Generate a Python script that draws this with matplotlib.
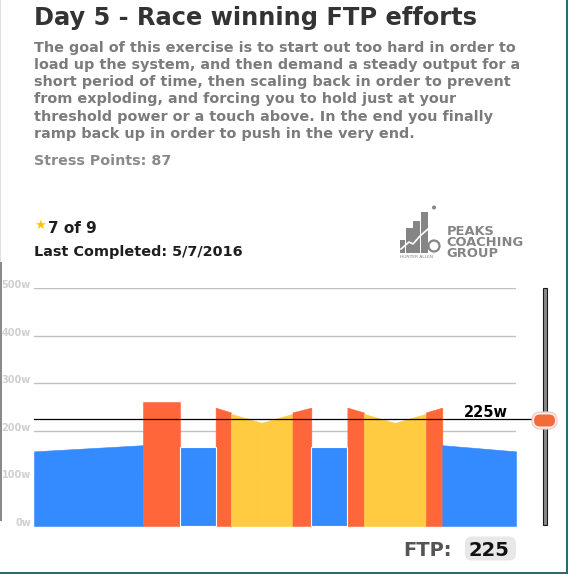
import matplotlib.pyplot as plt
from matplotlib.patches import Rectangle, FancyBboxPatch, Circle
from matplotlib.transforms import Affine2D
import numpy as np

W, H = 568, 574

# workout blocks: length in seconds, watts at start and end of block
block_secs = [545, 182, 180, 76, 154, 154, 94, 180, 82, 155, 155, 82, 368]
start_watts = [157, 260, 166, 249, 236, 217, 239, 166, 249, 236, 217, 239, 170]
end_watts = [170, 260, 166, 239, 217, 236, 249, 166, 239, 217, 236, 249, 157]
zones = ["rec", "hard", "rec", "hard", "tempo", "tempo", "hard",
         "rec", "hard", "tempo", "tempo", "hard", "rec"]

ftp = 225
y_ticks = [0, 100, 200, 300, 400, 500]
y_labels = ["0w", "100w", "200w", "300w", "400w", "500w"]

title = "Day 5 - Race winning FTP efforts"
desc_lines = [
    "The goal of this exercise is to start out too hard in order to",
    "load up the system, and then demand a steady output for a",
    "short period of time, then scaling back in order to prevent",
    "from exploding, and forcing you to hold just at your",
    "threshold power or a touch above. In the end you finally",
    "ramp back up in order to push in the very end.",
]
stress_txt = "Stress Points: 87"
progress_txt = "7 of 9"
last_txt = "Last Completed: 5/7/2016"
logo_txt = "PEAKS\nCOACHING\nGROUP"

zone_col = {"rec": "#338bff", "hard": "#ff663a", "tempo": "#ffcb40"}

fig = plt.figure(figsize=(W / 100, H / 100), dpi=100)
fig.patch.set_facecolor("white")
# pixel coords, origin top-left
px = Affine2D().scale(1 / W, -1 / H).translate(0, 1) + fig.transFigure

# ---- header texts
fig.text(34, 25.4, title, transform=px, fontsize=17.4, fontweight="bold",
         color="#333333", va="baseline")
for i, line in enumerate(desc_lines):
    fig.text(34, 51.8 + i * 17.2, line, transform=px, fontsize=10.4,
             fontweight="bold", color="#7b7b7b", va="baseline")
fig.text(34, 165, stress_txt, transform=px, fontsize=10.3, fontweight="bold",
         color="#8a8a8a", va="baseline")
fig.text(40, 225, "\u2605", transform=px, fontsize=9.5, color="#ffc400",
         ha="center", va="center")
fig.text(48, 233, progress_txt, transform=px, fontsize=11, fontweight="bold",
         color="#1e1e1e", va="baseline")
fig.text(34, 255.6, last_txt, transform=px, fontsize=10.4, fontweight="bold",
         color="#1e1e1e", va="baseline")

# ---- logo
logo_gray = "#858585"
for x0, top, w in [(400, 240, 5), (405.5, 228, 7), (413, 221, 7), (420.5, 212, 7)]:
    fig.add_artist(Rectangle((x0, top), w, 253 - top, transform=px,
                             facecolor=logo_gray, edgecolor="none"))
fig.add_artist(plt.Line2D([401, 409, 413, 420, 428], [249, 242, 244, 236, 229],
                          transform=px, color="white", lw=1.2))
fig.add_artist(Circle((434, 246), 5.5, transform=px, facecolor="white",
                      edgecolor=logo_gray, lw=1.6))
fig.add_artist(Circle((434, 207.5), 2, transform=px, facecolor=logo_gray,
                      edgecolor="none"))
fig.text(400, 258.5, "HUNTER ALLEN", transform=px, fontsize=3.2,
         color=logo_gray, va="baseline")
fig.text(446.5, 259.8, logo_txt, transform=px, fontsize=9.4,
         fontweight="semibold", linespacing=0.78, color=logo_gray,
         va="bottom", ha="left", multialignment="left")

# ---- workout chart
ax = fig.add_axes([34 / W, 48 / H, 482 / W, (526 - 288.3) / H])
ax.axis("off")
total = sum(block_secs)
ax.set_xlim(0, total)
ax.set_ylim(0, 500)

for v, lab in zip(y_ticks, y_labels):
    ax.axhline(v, color="#c0c0c0", lw=1.0, zorder=0)
    ax.annotate(lab, xy=(0, v), xycoords=ax.get_yaxis_transform(),
                xytext=(-2.2, 0), textcoords="offset points", ha="right",
                va="baseline", fontsize=7, fontweight="bold",
                color="#cfcfcf", annotation_clip=False)

edges = np.concatenate([[0], np.cumsum(block_secs)])
for i in range(len(block_secs)):
    c = zone_col[zones[i]]
    steady = zones[i] == "rec" and start_watts[i] == end_watts[i]
    ax.fill_between([edges[i], edges[i + 1]], [start_watts[i], end_watts[i]],
                    facecolor=c, zorder=2 + int(steady),
                    edgecolor="white" if steady else c,
                    linewidth=0.8 if steady else 0.4)

ax.axhline(ftp, xmin=0, xmax=(531.5 - 34) / 482, color="black", lw=0.9,
           zorder=5, clip_on=False)
ax.annotate(f"{ftp}w", xy=(1, ftp), xycoords=ax.get_yaxis_transform(),
            xytext=(-5.6, 1.6), textcoords="offset points", ha="right",
            va="baseline", fontsize=10.5, fontweight="bold", color="black",
            annotation_clip=False)

# ---- slider on the right
fig.add_artist(Rectangle((542.8, 288.3), 4, 236.7, transform=px,
                         facecolor="#8a8a8a", edgecolor="#1a1a1a", lw=0.8))
fig.add_artist(FancyBboxPatch((532, 412), 25, 17, transform=px,
                              boxstyle="round,pad=0,rounding_size=8.5",
                              facecolor="#fbeeea", edgecolor="#e8c8c0", lw=0.8))
fig.add_artist(FancyBboxPatch((534, 414.5), 21, 12, transform=px,
                              boxstyle="round,pad=0,rounding_size=6",
                              facecolor="#f26b3a", edgecolor="none"))

# ---- FTP box at the bottom
fig.text(403, 556, "FTP:", transform=px, fontsize=14, fontweight="bold",
         color="#555555", va="baseline")
fig.add_artist(FancyBboxPatch((465, 536.5), 51, 24, transform=px,
                              boxstyle="round,pad=0,rounding_size=7",
                              facecolor="#e8e8e8", edgecolor="none"))
fig.text(468.5, 556, str(ftp), transform=px, fontsize=14, fontweight="bold",
         color="#111111", va="baseline")

# ---- screenshot borders
fig.add_artist(Rectangle((0, 0), 1.2, 262, transform=px, facecolor="#e6dede",
                         edgecolor="none"))
fig.add_artist(Rectangle((0, 262), 1.5, 259, transform=px, facecolor="#8a8a8a",
                         edgecolor="none"))
fig.add_artist(Rectangle((566, 0), 2, H, transform=px, facecolor="#22707f",
                         edgecolor="none"))
fig.add_artist(Rectangle((0, 572), W, 2, transform=px, facecolor="#2e6874",
                         edgecolor="none"))

fig.savefig("out.png", dpi=100)
